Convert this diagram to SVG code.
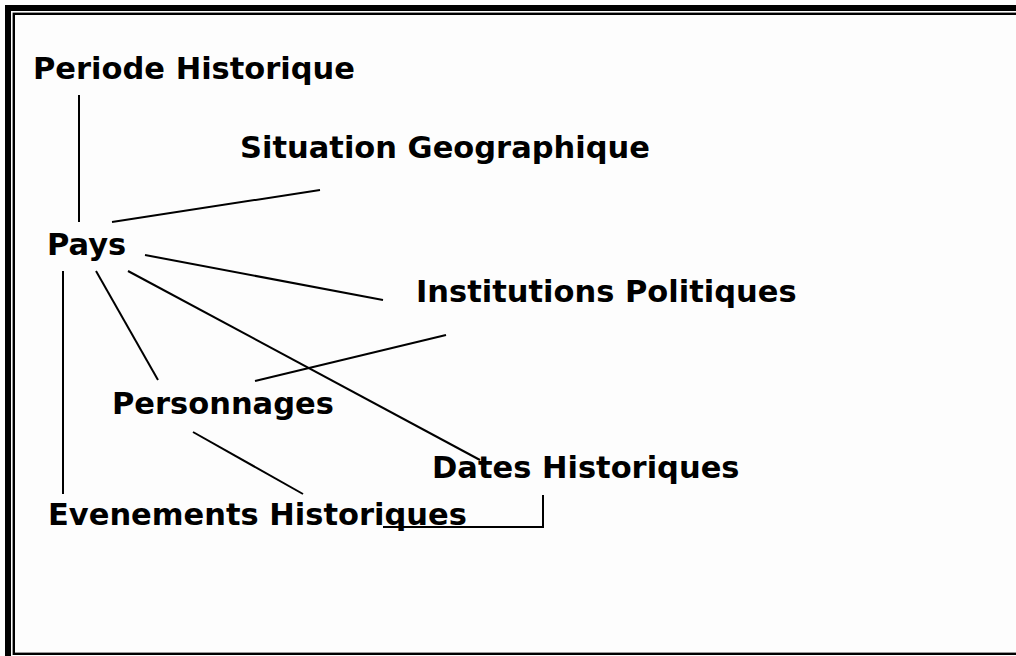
<svg xmlns="http://www.w3.org/2000/svg" width="1016" height="656" viewBox="0 0 1016 656">
  <style>
    .label { font-family: "DejaVu Sans", Verdana, sans-serif; font-weight: bold; font-size: 30.5px; fill: #000; }
    .link { stroke: #000; stroke-width: 2; fill: none; stroke-linecap: butt; }
    .frame { fill: none; stroke: #000; }
  </style>
  <rect x="0" y="0" width="1016" height="656" fill="#fdfdfd"/>

  <!-- double frame, running past the right and bottom edges -->
  <g id="frame">
    <rect class="frame" x="8" y="8" width="1040" height="700" stroke-width="6"/>
    <rect class="frame" x="13.8" y="13.8" width="1040" height="640" stroke-width="2.4"/>
  </g>

  <!-- connectors -->
  <g id="connectors">
    <line class="link" x1="79" y1="95" x2="79" y2="222"/>
    <line class="link" x1="112" y1="222" x2="320" y2="190"/>
    <line class="link" x1="145" y1="255" x2="383" y2="300"/>
    <line class="link" x1="128" y1="271" x2="480" y2="460"/>
    <line class="link" x1="96" y1="271" x2="158" y2="380"/>
    <line class="link" x1="255" y1="381" x2="446" y2="335"/>
    <line class="link" x1="193" y1="432" x2="303" y2="494"/>
    <line class="link" x1="63" y1="271" x2="63" y2="494"/>
    <polyline class="link" points="383,527 543,527 543,495"/>
  </g>

  <g id="periode"><text class="label" x="33" y="79">Periode Historique</text></g>
  <g id="situation"><text class="label" x="240" y="158">Situation Geographique</text></g>
  <g id="pays"><text class="label" x="47" y="255">Pays</text></g>
  <g id="institutions"><text class="label" x="416" y="302">Institutions Politiques</text></g>
  <g id="personnages"><text class="label" x="112" y="414">Personnages</text></g>
  <g id="dates"><text class="label" x="432" y="478">Dates Historiques</text></g>
  <g id="evenements"><text class="label" x="48" y="525">Evenements Historiques</text></g>
</svg>
